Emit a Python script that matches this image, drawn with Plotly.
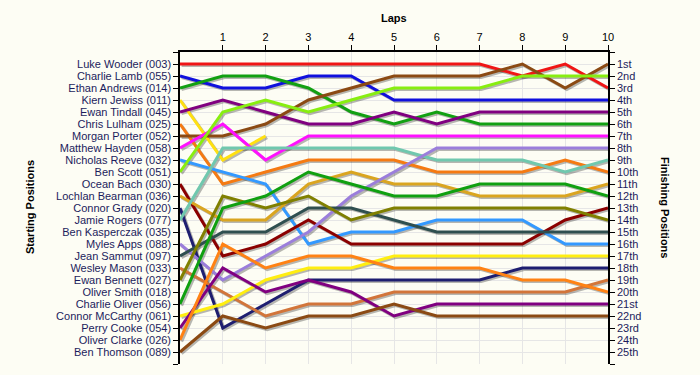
import plotly.graph_objects as go

laps = list(range(0, 11))
lap_ticks = list(range(1, 11))

drivers = [
    "Luke Wooder (003)", "Charlie Lamb (055)", "Ethan Andrews (014)", "Kiern Jewiss (011)",
    "Ewan Tindall (045)", "Chris Lulham (025)", "Morgan Porter (052)", "Matthew Hayden (058)",
    "Nicholas Reeve (032)", "Ben Scott (051)", "Ocean Bach (030)", "Lochlan Bearman (036)",
    "Connor Grady (020)", "Jamie Rogers (077)", "Ben Kasperczak (035)", "Myles Apps (088)",
    "Jean Sammut (097)", "Wesley Mason (033)", "Ewan Bennett (027)", "Oliver Smith (018)",
    "Charlie Oliver (056)", "Connor McCarthy (061)", "Perry Cooke (054)", "Oliver Clarke (026)",
    "Ben Thomson (089)",
]

finish_labels = ["1st", "2nd", "3rd"] + [f"{i}th" for i in range(4, 21)] + ["21st", "22nd", "23rd", "24th", "25th"]

N = None
positions = [
    [1, 1, 1, 1, 1, 1, 1, 1, 2, 1, 3],
    [2, 3, 3, 2, 2, 4, 4, 4, 4, 4, 4],
    [3, 2, 2, 3, 5, 6, 5, 6, 6, 6, 6],
    [4, 9, 7, N, N, N, N, N, N, N, N],
    [5, 4, 5, 6, 6, 5, 6, 5, 5, 5, 5],
    [6, 11, 10, 9, 9, 9, 10, 10, 10, 9, 10],
    [7, 7, 6, 4, 3, 2, 2, 2, 1, 3, 1],
    [8, 6, 9, 7, 7, 7, 7, 7, 7, 7, 7],
    [9, 10, 11, 16, 15, 15, 14, 14, 14, 16, 16],
    [10, 5, 4, 5, 4, 3, 3, 3, 2, 2, 2],
    [11, 17, 16, 14, 16, 16, 16, 16, 16, 14, 13],
    [12, 14, 14, 11, 10, 11, 11, 12, 12, 12, 11],
    [13, 23, 21, 19, 19, 19, 19, 19, 18, 18, 18],
    [14, 8, 8, 8, 8, 8, 9, 9, 9, 10, 9],
    [N, N, N, N, N, N, N, N, N, N, N],
    [16, 19, 17, 15, 12, 10, 8, 8, 8, 8, 8],
    [17, 15, 15, 13, 13, 14, 15, 15, 15, 15, 15],
    [18, 20, 22, 21, 21, 20, 20, 20, 20, 20, 19],
    [19, 12, 13, 12, 14, 13, 13, 13, 13, 13, 14],
    [N, N, N, N, N, N, N, N, N, N, N],
    [21, 13, 12, 10, 11, 12, 12, 11, 11, 11, 12],
    [22, 21, 19, 18, 18, 17, 17, 17, 17, 17, 17],
    [23, 18, 20, 19, 20, 22, 21, 21, 21, 21, 21],
    [24, 16, 18, 17, 17, 18, 18, 18, 19, 19, 20],
    [25, 22, 23, 22, 22, 21, 22, 22, 22, 22, 22],
]

colors = [
    "#F01515", "#1010DD", "#12A012", "#FFE010", "#800080", "#F57A12", "#8B4A13", "#FF10FF",
    "#3399FF", "#88EE10", "#8B0000", "#DAA520", "#1E1E70", "#70C8AE", "#888888", "#9B7EDB",
    "#2F4F4F", "#D2753A", "#808000", "#888888", "#10A010", "#FFEE10", "#800080", "#FF8214",
    "#8B4A13",
]

fig = go.Figure()

px_per_lap = 428 / 10
px_per_pos = 312 / 26
dx = 1.6 / px_per_lap
dy = 1.6 / px_per_pos

# shadows
for pos in positions:
    xs = [l + dx if p is not None else None for l, p in zip(laps, pos)]
    ys = [p + dy if p is not None else None for p in pos]
    fig.add_trace(go.Scatter(x=xs, y=ys, mode="lines", line=dict(color="rgba(0,0,0,0.28)", width=3),
                             hoverinfo="skip", showlegend=False, connectgaps=False))

for name, pos, col in zip(drivers, positions, colors):
    fig.add_trace(go.Scatter(x=laps, y=pos, mode="lines", name=name, line=dict(color=col, width=3),
                             hoverinfo="skip", showlegend=False, connectgaps=False))

# dummy traces to activate extra axes
fig.add_trace(go.Scatter(x=[0], y=[1], yaxis="y2", mode="markers", marker=dict(opacity=0),
                         hoverinfo="skip", showlegend=False))
fig.add_trace(go.Scatter(x=[0], y=[1], yaxis="y3", mode="markers", marker=dict(opacity=0),
                         hoverinfo="skip", showlegend=False))

font_family = "Liberation Sans, Arial, sans-serif"
label_color = "#1c1c5c"
grid_color = "#E6E6E6"
bg = "#FDFDF4"

left_vals = list(range(0, 27))
left_text = [""] + drivers + [""]
right_text = [""] + finish_labels + [""]

fig.update_layout(
    width=692, height=367,
    margin=dict(l=172, r=92, t=44, b=11, autoexpand=False),
    paper_bgcolor=bg, plot_bgcolor=bg,
    font=dict(family=font_family, size=11, color="black"),
    showlegend=False,
    xaxis=dict(
        side="top", range=[0, 10], tickvals=lap_ticks, ticktext=[str(v) for v in lap_ticks],
        showgrid=True, gridcolor=grid_color, gridwidth=1, zeroline=False,
        showline=True, linecolor="black", linewidth=1.5,
        ticks="outside", ticklen=5, tickcolor="black", tickwidth=1,
        tickfont=dict(size=11, color="black", family=font_family),
        fixedrange=True, automargin=False,
    ),
    yaxis=dict(
        range=[26, 0], tickvals=left_vals, ticktext=left_text,
        showgrid=False, zeroline=False,
        showline=True, linecolor="black", linewidth=1.5,
        ticks="outside", ticklen=5, tickcolor="black", tickwidth=1,
        tickfont=dict(size=11, color=label_color, family=font_family),
        fixedrange=True, automargin=False,
    ),
    yaxis2=dict(
        overlaying="y", side="right", range=[26, 0], tickvals=left_vals, ticktext=right_text,
        showgrid=False, zeroline=False,
        showline=True, linecolor="black", linewidth=1.5,
        ticks="outside", ticklen=5, tickcolor="black", tickwidth=1,
        tickfont=dict(size=11, color=label_color, family=font_family),
        fixedrange=True, automargin=False,
    ),
    yaxis3=dict(
        overlaying="y", side="left", range=[26, 0], tickvals=list(range(1, 26)),
        showgrid=True, gridcolor=grid_color, gridwidth=1, zeroline=False,
        showline=False, showticklabels=False, ticks="",
        fixedrange=True, automargin=False,
    ),
    annotations=[
        dict(text="<b>Laps</b>", xref="paper", yref="paper", x=0.5, y=1, yshift=34,
             xanchor="center", yanchor="middle",
             showarrow=False, font=dict(size=11, color="black", family=font_family)),
        dict(text="<b>Starting Positions</b>", xref="paper", yref="paper", x=0, xshift=-150, y=0.5, yshift=1,
             xanchor="center", yanchor="middle",
             showarrow=False, textangle=-90, font=dict(size=11, color="black", family=font_family)),
        dict(text="<b>Finishing Positions</b>", xref="paper", yref="paper", x=1, xshift=57, y=0.5, yshift=1,
             xanchor="center", yanchor="middle",
             showarrow=False, textangle=90, font=dict(size=11, color="black", family=font_family)),
    ],
)

fig.write_html("out.html", post_script="document.body.style.backgroundColor='%s';" % bg)
